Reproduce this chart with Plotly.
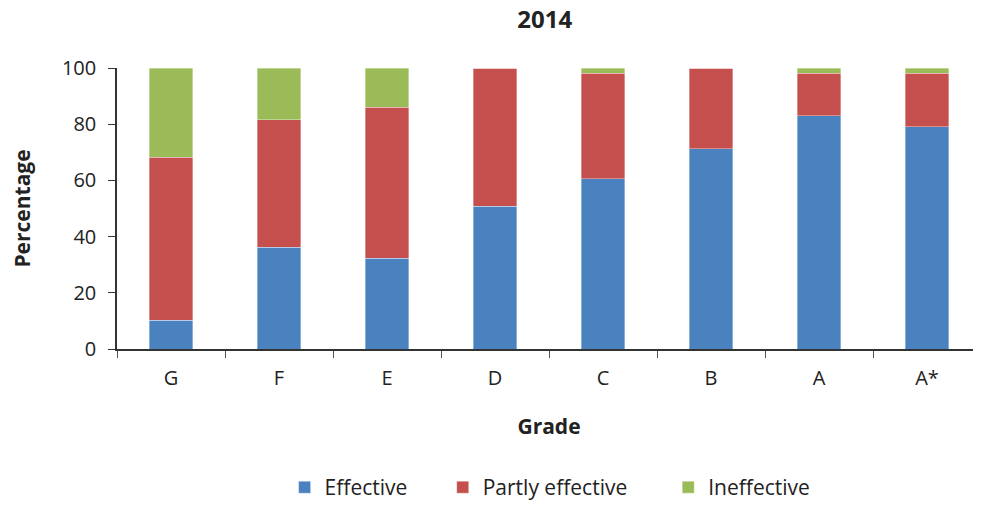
import plotly.graph_objects as go

grades = ["G", "F", "E", "D", "C", "B", "A", "A*"]
effective = [10.3, 36.2, 32.3, 50.8, 60.6, 71.2, 83.0, 79.1]
partly_effective = [58.0, 45.3, 53.7, 49.2, 37.5, 28.8, 15.1, 19.0]
ineffective = [31.7, 18.5, 14.0, 0.0, 1.9, 0.0, 1.9, 1.9]

series_names = ["Effective", "Partly effective", "Ineffective"]
series_values = [effective, partly_effective, ineffective]
series_colors = ["#4a81bf", "#c44f4d", "#9bbb59"]
legend_ids = ["legend", "legend2", "legend3"]
legend_x = [0.194, 0.377, 0.638]

font_family = "Open Sans, Lato, sans-serif"
fig = go.Figure()
for name, vals, color, lid in zip(series_names, series_values, series_colors, legend_ids):
    fig.add_trace(go.Bar(
        x=grades, y=vals, name=name, legend=lid,
        marker=dict(color=color, line=dict(width=0.6, color="rgba(255,255,255,0.6)")),
    ))

legend_common = dict(orientation="h", xanchor="left", y=-0.566, yanchor="bottom",
                     font=dict(size=21), bgcolor="rgba(0,0,0,0)")

fig.update_layout(
    barmode="stack",
    bargap=0.6,
    width=973, height=501,
    margin=dict(l=109, r=0, t=60, b=160),
    paper_bgcolor="white", plot_bgcolor="white",
    font=dict(family=font_family, size=20, color="#222222"),
    title=dict(text="<b>2014</b>", xref="paper", x=0.495, xanchor="center",
               yref="container", y=1 - 3 / 501, yanchor="top", pad=dict(t=0, b=0),
               font=dict(size=24, color="#222222")),
    showlegend=True,
    legend=dict(x=legend_x[0], **legend_common),
    legend2=dict(x=legend_x[1], **legend_common),
    legend3=dict(x=legend_x[2], **legend_common),
    xaxis=dict(
        title=dict(text="<b>Grade</b>", standoff=30, font=dict(size=21)),
        showline=True, linecolor="#333333", linewidth=1.5,
        ticks="outside", ticklen=7, tickcolor="#555555", tickson="boundaries",
        tickfont=dict(size=20), showgrid=False, ticklabelstandoff=10,
    ),
    yaxis=dict(
        title=dict(text="<b>Percentage</b>", standoff=26, font=dict(size=21)),
        range=[0, 100], dtick=20,
        showline=True, linecolor="#333333", linewidth=1.5,
        ticks="outside", ticklen=7, tickcolor="#333333",
        tickfont=dict(size=20), showgrid=False, zeroline=False, ticklabelstandoff=8,
    ),
)

fig.write_html("out.html")
